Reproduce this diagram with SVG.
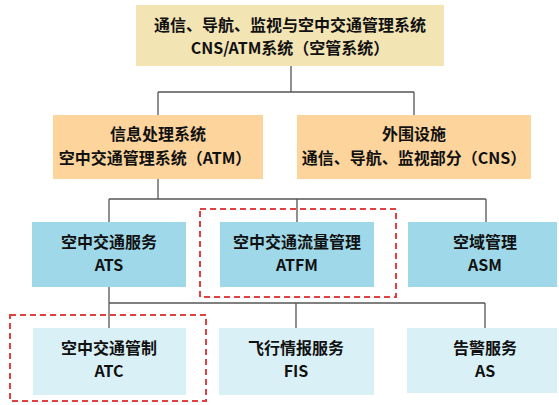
<svg xmlns="http://www.w3.org/2000/svg" width="559" height="405" viewBox="0 0 559 405">
<style>
text{font-family:"Noto Sans CJK SC","Noto Sans",sans-serif;font-weight:bold;font-size:16px;fill:#111;text-anchor:middle}
.l0{fill:#f3e4b4}.l1{fill:#fdd59c}.l2{fill:#9fd9e9}.l3{fill:#daf0f7}
.c{stroke:#555;stroke-width:1.3;fill:none}
.hl{stroke:#e04040;stroke-width:2;stroke-dasharray:6,4;fill:none}
</style>
<rect width="559" height="405" fill="#fff"/>
<g id="connectors">
<path class="c" d="M291 66V92M158 92H414M158 92V115M414 92V115"/>
<path class="c" d="M158 179V199M109 199H486M109 199V222M297 199V222M486 199V222"/>
<path class="c" d="M109 287V303M109 303H485M109 303V328M296 303V328M485 303V328"/>
</g>
<g id="n-cnsatm"><rect class="l0" x="136" y="5" width="308" height="61"/><text x="290" y="31">通信、导航、监视与空中交通管理系统</text><text x="290" y="54">CNS/ATM系统（空管系统）</text></g>
<g id="n-atm"><rect class="l1" x="53" y="115" width="210" height="64"/><text x="158" y="140">信息处理系统</text><text x="155" y="164">空中交通管理系统（ATM）</text></g>
<g id="n-cns"><rect class="l1" x="297" y="115" width="234" height="64"/><text x="414" y="140">外围设施</text><text x="414" y="164">通信、导航、监视部分（CNS）</text></g>
<g id="n-ats"><rect class="l2" x="32" y="222" width="154" height="65"/><text x="109" y="248">空中交通服务</text><text x="109" y="271">ATS</text></g>
<g id="n-atfm"><rect class="l2" x="220" y="222" width="154" height="65"/><text x="297" y="248">空中交通流量管理</text><text x="297" y="271">ATFM</text></g>
<g id="n-asm"><rect class="l2" x="408" y="222" width="149" height="65"/><text x="485" y="248">空域管理</text><text x="485" y="271">ASM</text></g>
<g id="n-atc"><rect class="l3" x="33" y="328" width="153" height="67"/><text x="109" y="354">空中交通管制</text><text x="109" y="377">ATC</text></g>
<g id="n-fis"><rect class="l3" x="219" y="328" width="155" height="67"/><text x="296" y="354">飞行情报服务</text><text x="296" y="377">FIS</text></g>
<g id="n-as"><rect class="l3" x="407" y="328" width="150" height="65"/><text x="485" y="354">告警服务</text><text x="485" y="377">AS</text></g>
<g id="highlights">
<rect class="hl" x="200" y="209" width="196" height="88"/>
<rect class="hl" x="10" y="315" width="196" height="86"/>
</g>
</svg>
